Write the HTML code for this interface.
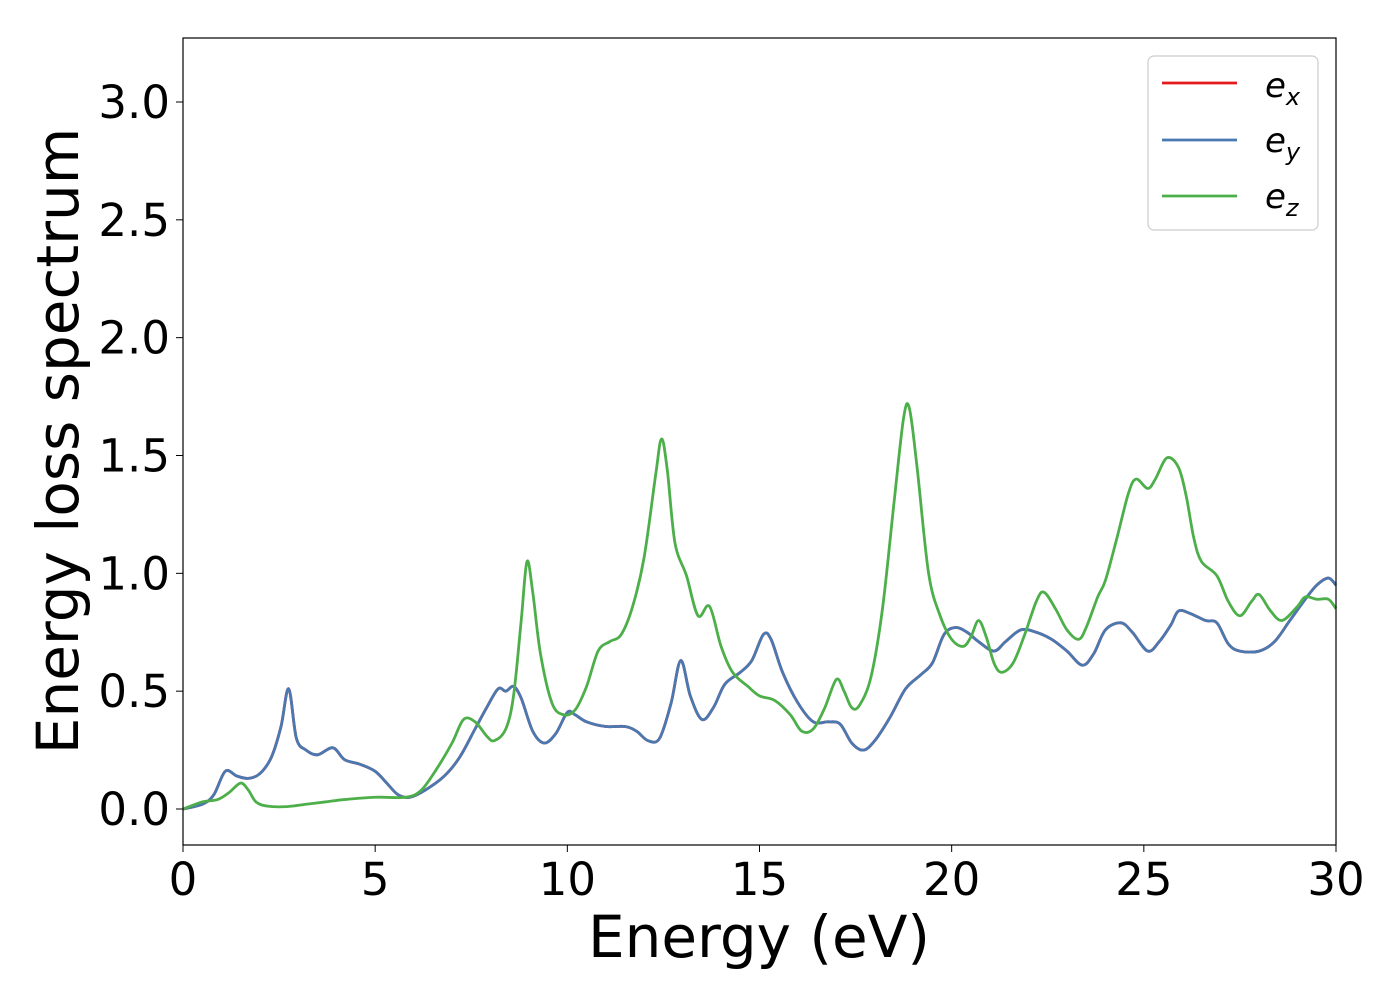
<!DOCTYPE html>
<html><head><meta charset="utf-8"><style>
body{margin:0;background:#fff}
svg text{font-family:"DejaVu Sans","Liberation Sans",sans-serif}
</style></head><body>
<svg id="chart" width="1400" height="1000" viewBox="0 0 1400 1000" xmlns="http://www.w3.org/2000/svg">
<rect width="1400" height="1000" fill="#fff"/>
<g id="series"></g>
<rect x="183" y="38" width="1153" height="807" fill="none" stroke="#000" stroke-width="1.2"/>
<g id="xticks"></g>
<g id="yticks"></g>
<text x="759" y="957" font-size="58" text-anchor="middle">Energy (eV)</text>
<text transform="translate(78,441) rotate(-90)" font-size="58" text-anchor="middle">Energy loss spectrum</text>
<g>
<rect x="1148" y="56" width="170" height="174" rx="6" fill="#fff" stroke="#ccc" stroke-width="1.2"/>
<line x1="1162" y1="83" x2="1237" y2="83" stroke="#e41a1c" stroke-width="2.8"/>
<text x="1265" y="97" font-size="34" font-style="italic">e<tspan font-size="24" dy="8">x</tspan></text>
<line x1="1162" y1="140" x2="1237" y2="140" stroke="#4a78b0" stroke-width="2.8"/>
<text x="1265" y="152" font-size="34" font-style="italic">e<tspan font-size="24" dy="8">y</tspan></text>
<line x1="1162" y1="196" x2="1237" y2="196" stroke="#4daf4a" stroke-width="2.8"/>
<text x="1265" y="208" font-size="34" font-style="italic">e<tspan font-size="24" dy="8">z</tspan></text>
</g>
</svg>
<script>
const xTicks=[0,5,10,15,20,25,30];
const yTicks=[0,0.5,1,1.5,2,2.5,3];
const yTickLabels=["0.0","0.5","1.0","1.5","2.0","2.5","3.0"];
const blueE=[0,0.5,0.8,1.1,1.4,1.7,2.0,2.3,2.55,2.75,2.95,3.2,3.5,3.9,4.2,4.6,5.0,5.3,5.6,5.9,6.3,6.8,7.2,7.6,7.9,8.2,8.4,8.6,8.8,9.1,9.4,9.7,10.0,10.2,10.5,11.0,11.5,11.8,12.1,12.4,12.7,12.95,13.2,13.5,13.8,14.1,14.5,14.8,15.1,15.3,15.6,16.0,16.4,16.8,17.1,17.4,17.7,18.0,18.4,18.8,19.2,19.5,19.8,20.1,20.4,20.7,21.1,21.4,21.8,22.2,22.6,23.0,23.4,23.7,24.0,24.4,24.7,25.1,25.4,25.7,25.9,26.2,26.6,26.9,27.2,27.5,28.0,28.4,28.8,29.2,29.5,29.8,30];
const blueV=[0,0.02,0.06,0.16,0.14,0.13,0.15,0.22,0.35,0.51,0.30,0.25,0.23,0.26,0.21,0.19,0.16,0.11,0.06,0.05,0.08,0.14,0.22,0.34,0.43,0.51,0.50,0.52,0.47,0.33,0.28,0.32,0.41,0.40,0.37,0.35,0.35,0.33,0.29,0.30,0.45,0.63,0.48,0.38,0.43,0.53,0.58,0.63,0.74,0.72,0.58,0.45,0.37,0.37,0.36,0.28,0.25,0.29,0.39,0.51,0.57,0.62,0.74,0.77,0.75,0.71,0.67,0.71,0.76,0.75,0.72,0.67,0.61,0.66,0.76,0.79,0.75,0.67,0.71,0.78,0.84,0.83,0.80,0.79,0.70,0.67,0.67,0.71,0.80,0.89,0.95,0.98,0.95];
const greenE=[0,0.5,0.9,1.2,1.5,1.7,1.9,2.2,2.7,3.2,3.7,4.2,5.0,5.8,6.2,6.6,7.0,7.3,7.6,7.9,8.1,8.4,8.6,8.8,8.95,9.1,9.3,9.6,9.9,10.2,10.5,10.8,11.1,11.4,11.7,12.0,12.3,12.45,12.6,12.8,13.1,13.4,13.7,14.0,14.3,14.7,15.0,15.4,15.8,16.1,16.4,16.7,17.0,17.2,17.4,17.6,17.9,18.2,18.5,18.75,18.9,19.1,19.4,19.7,20.0,20.3,20.5,20.7,20.9,21.1,21.3,21.6,21.9,22.2,22.4,22.7,23.0,23.3,23.5,23.8,24.0,24.3,24.6,24.8,25.1,25.3,25.6,25.9,26.1,26.3,26.5,26.9,27.2,27.5,27.8,28.0,28.3,28.6,29.0,29.2,29.5,29.8,30];
const greenV=[0,0.03,0.04,0.07,0.11,0.08,0.03,0.012,0.01,0.02,0.03,0.04,0.05,0.05,0.08,0.17,0.28,0.38,0.37,0.31,0.29,0.34,0.48,0.80,1.05,0.92,0.66,0.45,0.40,0.42,0.52,0.67,0.71,0.74,0.86,1.07,1.42,1.57,1.44,1.13,0.99,0.82,0.86,0.69,0.58,0.52,0.48,0.46,0.40,0.33,0.34,0.43,0.55,0.50,0.43,0.44,0.56,0.85,1.30,1.66,1.70,1.45,1.00,0.82,0.72,0.69,0.73,0.80,0.73,0.62,0.58,0.62,0.74,0.88,0.92,0.85,0.76,0.72,0.77,0.90,0.97,1.15,1.34,1.40,1.36,1.40,1.49,1.45,1.33,1.15,1.05,0.99,0.88,0.82,0.88,0.91,0.84,0.80,0.86,0.90,0.89,0.89,0.85];
const NS="http://www.w3.org/2000/svg";
const X=e=>183+(e-0)/30*1153;
const Y=v=>809-v*235.67;
function path(E,V){
  const p=E.map((e,i)=>[X(e),Y(V[i])]);
  let d="M"+p[0][0]+","+p[0][1];
  for(let i=0;i<p.length-1;i++){
    const p0=p[i-1]||p[i],p1=p[i],p2=p[i+1],p3=p[i+2]||p2;
    const c1=[p1[0]+(p2[0]-p0[0])/6,p1[1]+(p2[1]-p0[1])/6];
    const c2=[p2[0]-(p3[0]-p1[0])/6,p2[1]-(p3[1]-p1[1])/6];
    d+=" C"+c1+" "+c2+" "+p2;
  }
  return d;
}
const g=document.getElementById("series");
[["line-ex",blueE,blueV,"#e41a1c"],["line-ey",blueE,blueV,"#4a78b0"],["line-ez",greenE,greenV,"#4daf4a"]].forEach(s=>{
  const el=document.createElementNS(NS,"path");
  
  
  el.setAttribute("d",path(s[1],s[2]));
  el.setAttribute("fill","none");el.setAttribute("stroke",s[3]);el.setAttribute("stroke-width","2.8");
  el.setAttribute("stroke-linejoin","round");
  g.appendChild(el);
});
const xg=document.getElementById("xticks");
xTicks.forEach(t=>{
  const l=document.createElementNS(NS,"line");
  
  
  l.setAttribute("x1",X(t));l.setAttribute("x2",X(t));l.setAttribute("y1",845);l.setAttribute("y2",852);l.setAttribute("stroke","#000");
  xg.appendChild(l);
  const tx=document.createElementNS(NS,"text");
  
  
  tx.setAttribute("x",X(t));tx.setAttribute("y",895);tx.setAttribute("font-size","45");tx.setAttribute("text-anchor","middle");
  tx.textContent=String(t);xg.appendChild(tx);
});
const yg=document.getElementById("yticks");
yTicks.forEach((t,i)=>{
  const l=document.createElementNS(NS,"line");
  
  
  l.setAttribute("x1",176);l.setAttribute("x2",183);l.setAttribute("y1",Y(t));l.setAttribute("y2",Y(t));l.setAttribute("stroke","#000");
  yg.appendChild(l);
  const tx=document.createElementNS(NS,"text");
  
  
  tx.setAttribute("x",170);tx.setAttribute("y",Y(t)+16);tx.setAttribute("font-size","45");tx.setAttribute("text-anchor","end");
  tx.textContent=yTickLabels[i];yg.appendChild(tx);
});
</script>
</body></html>
